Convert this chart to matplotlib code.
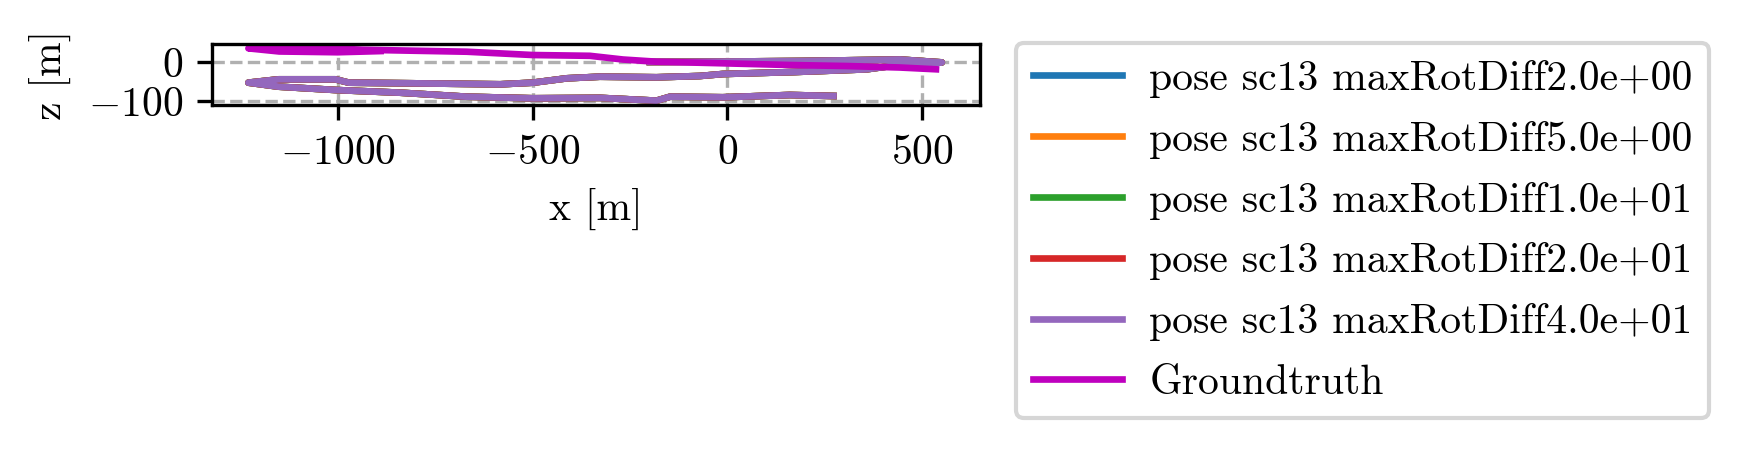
import numpy as np
import matplotlib
matplotlib.use("Agg")
import matplotlib.pyplot as plt

# Computer Modern look without LaTeX
plt.rcParams["font.family"] = "serif"
plt.rcParams["font.serif"] = ["cmr10"]
plt.rcParams["mathtext.fontset"] = "cm"
plt.rcParams["axes.formatter.use_mathtext"] = True
plt.rcParams["font.size"] = 10

# groundtruth trajectory (x, z) in metres
gtX = [-890, -1000, -1150, -1229, -1150, -1000, -937, -809, -669, -499, -353, -268, -182, -12, 160, 306, 442, 535]
gtZ = [28, 25, 27, 35, 36, 34.5, 31.5, 29, 26.4, 17.9, 15.9, 6.4, 0.8, -3.3, -7.7, -10.3, -14.1, -18.7]

# estimated trajectory, all five runs overlap at this scale
poseX = [272, 160, -12, -147, -182, -327, -499, -669, -840, -1006, -1151, -1229,
         -1151, -1006, -971, -809, -583, -499, -412, -327, -182, -71, -12, 173, 357, 476, 550,
         442, 357, 186, 14, -199]
poseZ = [-87.2, -84.6, -90.5, -89, -99.2, -92, -93.1, -89, -78.7, -71.8, -63.3, -53,
         -44.4, -44.4, -53, -54.6, -57.2, -53, -41.8, -37.7, -39.2, -35.9, -30.8, -25.6, -18.7, -2.6, -1.0,
         6.4, 5.1, 2.6, 1.3, 0]

maxRotDiffs = ["2.0e+00", "5.0e+00", "1.0e+01", "2.0e+01", "4.0e+01"]
colours = ["tab:blue", "tab:orange", "tab:green", "tab:red", "tab:purple"]

fig = plt.figure(figsize=(1738 / 300, 451 / 300), dpi=300)
ax = fig.add_axes([212 / 1738, 1 - 105 / 451, 768 / 1738, 61 / 451])

for rot, c in zip(maxRotDiffs, colours):
    ax.plot(poseX, poseZ, color=c, linewidth=1.6, label="pose sc13 maxRotDiff" + rot)
ax.plot(gtX, gtZ, color="m", linewidth=1.6, label="Groundtruth")

ax.set_xlim(-1321.8, 647.4)
ax.set_ylim(-110.3, 46.2)
ax.set_aspect("equal", adjustable="box")
ax.set_xticks([-1000, -500, 0, 500])
ax.set_yticks([-100, 0])
ax.grid(True, linestyle="--")
ax.set_xlabel("x [m]")
ax.set_ylabel("z [m]")

fig.legend(loc="upper left", bbox_to_anchor=(1016 / 1738, 1 - 43 / 451), borderaxespad=0,
           handlelength=2.15, handletextpad=0.65, labelspacing=0.55)

fig.savefig("out.png", dpi=300)
